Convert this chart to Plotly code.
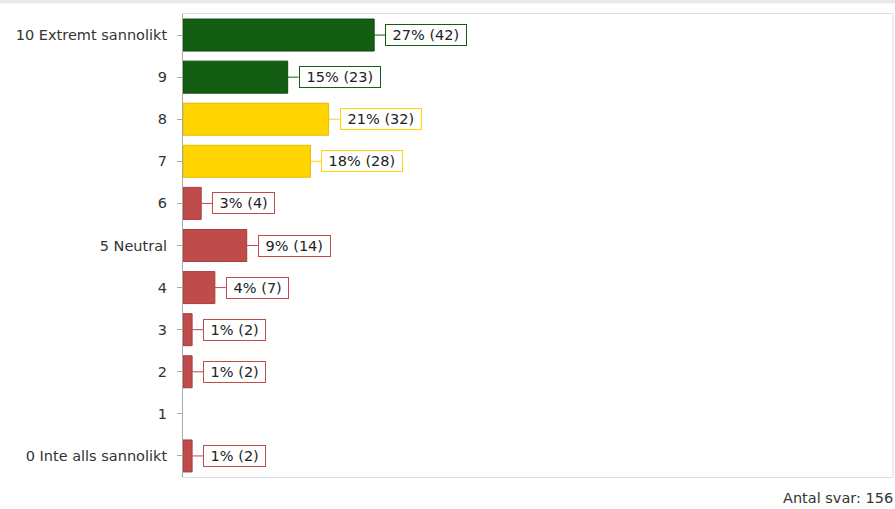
import plotly.graph_objects as go

categories = ["10 Extremt sannolikt", "9", "8", "7", "6", "5 Neutral", "4", "3", "2", "1", "0 Inte alls sannolikt"]
counts = [42, 23, 32, 28, 4, 14, 7, 2, 2, 0, 2]
percents = [27, 15, 21, 18, 3, 9, 4, 1, 1, 0, 1]
total = 156

GREEN = "#135e12"
YELLOW = "#ffd400"
RED = "#bf4b4a"
bar_colors = [GREEN, GREEN, YELLOW, YELLOW, RED, RED, RED, RED, RED, RED, RED]
edge_colors = ["#0c480b", "#0c480b", "#e6bd00", "#e6bd00", "#a63d3c", "#a63d3c", "#a63d3c", "#a63d3c", "#a63d3c", "#a63d3c", "#a63d3c"]

FONT = "DejaVu Sans, Verdana, sans-serif"
FS = 14.5

fig = go.Figure()
fig.add_trace(go.Bar(
    y=categories, x=counts, orientation="h",
    marker=dict(color=bar_colors,
                line=dict(color=edge_colors, width=[1 if c > 0 else 0 for c in counts])),
    hoverinfo="skip",
))

for i, (c, p, col) in enumerate(zip(counts, percents, bar_colors)):
    if c == 0:
        continue
    fig.add_annotation(
        x=c, y=i, xref="x", yref="y",
        text=f"\u00a0{p}% ({c})\u00a0",
        showarrow=True, arrowhead=0, arrowwidth=1, arrowcolor=col,
        ax=11, ay=0, xanchor="left", yanchor="middle",
        bordercolor=col, borderwidth=1, borderpad=2, bgcolor="white",
        font=dict(family=FONT, size=FS, color="#222222"),
    )

fig.add_annotation(
    x=1.003, y=-0.045, xref="paper", yref="paper",
    text=f"Antal svar: {total}", showarrow=False,
    xanchor="right", yanchor="middle",
    font=dict(family=FONT, size=FS, color="#333333"),
)

# top gray band and right border
fig.add_shape(type="rect", xref="paper", yref="paper", x0=-0.3, x1=1.01,
              y0=1 + 10.5 / 463, y1=1 + 14.5 / 463, fillcolor="#e9e9e9", line=dict(width=0))
fig.add_shape(type="line", xref="paper", yref="paper", x0=1, x1=1, y0=0, y1=1,
              line=dict(color="#e0e0e0", width=1))

fig.update_layout(
    width=895, height=509,
    margin=dict(l=183, r=2, t=14, b=32),
    paper_bgcolor="white", plot_bgcolor="white",
    showlegend=False, bargap=0.24,
    font=dict(family=FONT, size=FS, color="#333333"),
    xaxis=dict(range=[0, total], showticklabels=False, showgrid=False, zeroline=False,
               showline=True, linecolor="#dddddd", linewidth=1, mirror=True, ticks=""),
    yaxis=dict(autorange="reversed", type="category", showgrid=False, zeroline=False,
               showline=True, linecolor="#aaaaaa", linewidth=1,
               ticks="outside", ticklen=5, tickcolor="#aaaaaa", ticklabelstandoff=7,
               tickfont=dict(family=FONT, size=FS, color="#333333")),
)

fig.write_html("out.html", config={"displayModeBar": False},
               post_script="document.body.style.margin='0';document.body.style.overflow='hidden';")
